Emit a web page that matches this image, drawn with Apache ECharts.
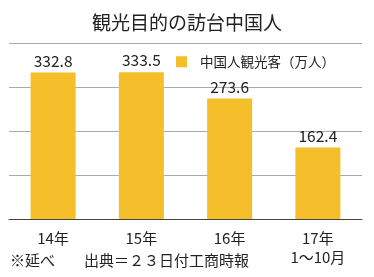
<!DOCTYPE html>
<html><head><meta charset="utf-8">
<script src="https://cdn.jsdelivr.net/npm/echarts@6/dist/echarts.min.js"></script>
<style>html,body{margin:0;padding:0;background:#fff}#c{width:374px;height:277px}</style>
</head><body><div id="c"></div>
<script>
const categories = ['14年', '15年', '16年', '17年\n1〜10月'];
const values = [332.8, 333.5, 273.6, 162.4];
const seriesName = '中国人観光客（万人）';
const titleText = '観光目的の訪台中国人';
const noteLeft = '※延べ';
const noteSource = '出典＝２３日付工商時報';
const FONT = '"Noto Sans CJK JP", sans-serif';
const chart = echarts.init(document.getElementById('c'));
chart.setOption({
  animation: false,
  textStyle: {fontFamily: FONT},
  title: {text: titleText, left: 'center', top: 8,
    textStyle: {fontFamily: FONT, fontSize: 19, fontWeight: 'normal', color: '#222'}},
  legend: {data: [seriesName], left: 171, top: 50, itemWidth: 11, itemHeight: 11, itemGap: 6,
    icon: 'rect', textStyle: {fontFamily: FONT, fontSize: 13.5, color: '#222', padding: [0,0,0,8]}},
  grid: {left: 9, right: 12, top: 43, bottom: 58},
  xAxis: {type: 'category', data: categories,
    axisLine: {lineStyle: {color: '#444', width: 1}}, axisTick: {show: false},
    axisLabel: {fontFamily: FONT, fontSize: 15, color: '#222', margin: 10, lineHeight: 19, verticalAlign: 'top'}},
  yAxis: {type: 'value', min: 0, max: 400, interval: 100,
    axisLabel: {show: false}, axisLine: {show: false}, axisTick: {show: false},
    splitLine: {lineStyle: {color: '#aaa', width: 1}}},
  series: [{name: seriesName, type: 'bar', data: values, barWidth: 45,
    itemStyle: {color: '#F4BF2A'},
    label: {show: true, position: 'top', distance: 4, fontFamily: FONT, fontSize: 15.5, color: '#222'}}],
  graphic: [
    {type: 'text', left: 10, top: 253, style: {text: noteLeft, font: '15px ' + FONT, fill: '#222'}},
    {type: 'text', left: 84, top: 253, style: {text: noteSource, font: '15px ' + FONT, fill: '#222'}}
  ]
});
</script></body></html>
